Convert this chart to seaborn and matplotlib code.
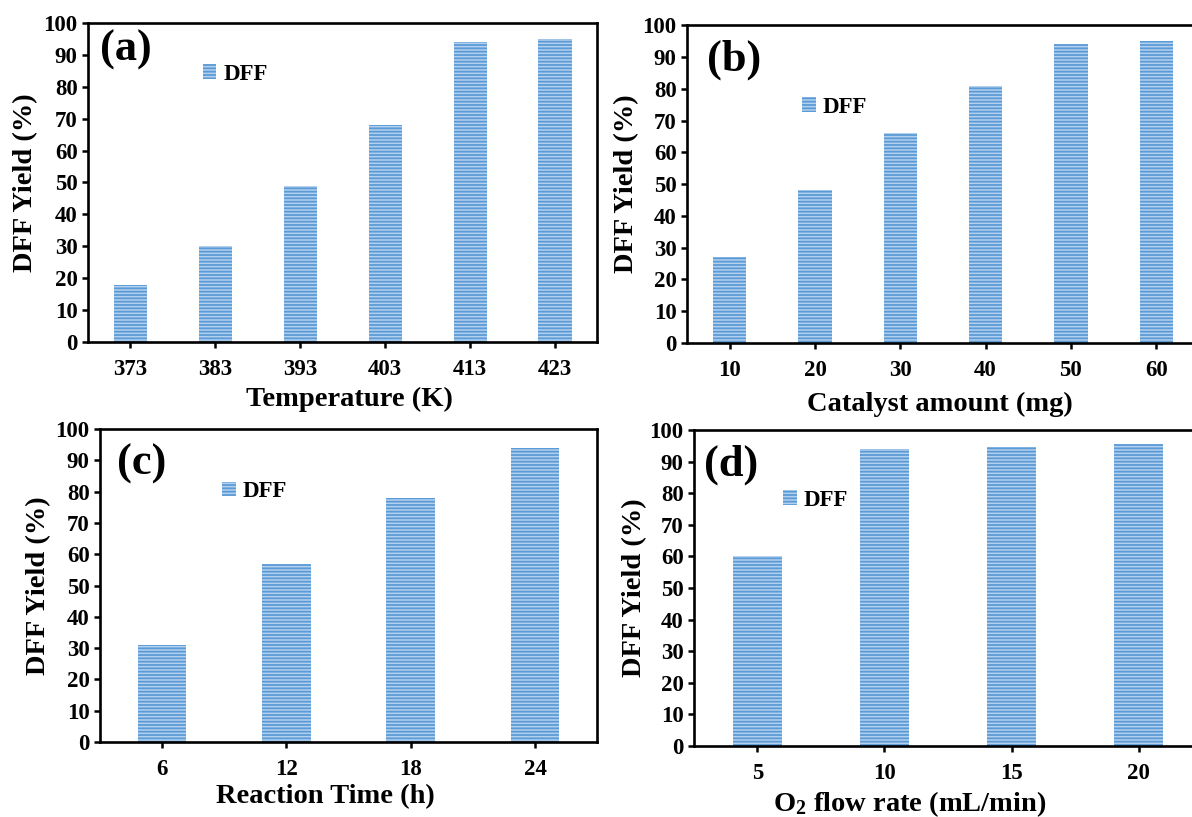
import matplotlib
matplotlib.use("Agg")
import matplotlib.pyplot as plt
from matplotlib.patches import Patch
import seaborn as sns
import pandas as pd

# Data for each panel
temperature = ["373", "383", "393", "403", "413", "423"]
yield_temperature = [18, 30, 49, 68, 94, 95]

catalyst_amount = ["10", "20", "30", "40", "50", "60"]
yield_catalyst = [27, 48, 66, 81, 94, 95]

reaction_time = ["6", "12", "18", "24"]
yield_time = [31, 57, 78, 94]

o2_flow = ["5", "10", "15", "20"]
yield_o2 = [60, 94, 94.5, 95.5]

sns.set_theme(style="white")
plt.rcParams["font.family"] = ["Liberation Serif", "DejaVu Serif"]
plt.rcParams["font.weight"] = "bold"
plt.rcParams["text.color"] = "black"
plt.rcParams["axes.labelcolor"] = "black"
plt.rcParams["xtick.color"] = "black"
plt.rcParams["ytick.color"] = "black"
plt.rcParams["hatch.linewidth"] = 1.3
plt.rcParams["mathtext.fontset"] = "custom"
plt.rcParams["mathtext.rm"] = "Liberation Serif:bold"
plt.rcParams["mathtext.it"] = "Liberation Serif:bold"
plt.rcParams["mathtext.bf"] = "Liberation Serif:bold"
plt.rcParams["mathtext.default"] = "rm"

FACE = "#b4d0ef"
STRIPE = "#5b9bd5"

fig = plt.figure(figsize=(11.92, 8.17), dpi=100)

panels = [
    # (categories, values, x label, panel tag, axes rect, legend anchor, tag pos, ylabel x, xlabel y, xlabel x)
    (temperature, yield_temperature, "Temperature (K)", "(a)",
     [0.0738, 0.5814, 0.4274, 0.3905], (0.225, 0.84), (0.024, 0.915), -0.098, -0.14, 0.514),
    (catalyst_amount, yield_catalyst, "Catalyst amount (mg)", "(b)",
     [0.5763, 0.5802, 0.4295, 0.389], (0.225, 0.742), (0.039, 0.89), -0.094, -0.154, 0.494),
    (reaction_time, yield_time, "Reaction Time (h)", "(c)",
     [0.0839, 0.0918, 0.417, 0.383], (0.245, 0.80), (0.034, 0.89), -0.099, -0.134, 0.453),
    (o2_flow, yield_o2, "O$_2$ flow rate (mL/min)", "(d)",
     [0.5822, 0.0869, 0.4262, 0.3868], (0.175, 0.778), (0.02, 0.89), -0.093, -0.136, 0.425),
]

for cats, vals, xlabel, tag, rect, leg_anchor, tag_pos, ylab_x, xlab_y, xlab_x in panels:
    ax = fig.add_axes(rect)
    df = pd.DataFrame({"x": cats, "y": vals})
    sns.barplot(data=df, x="x", y="y", ax=ax, width=0.39, color=FACE,
                saturation=1, errorbar=None)
    for bar in ax.patches:
        bar.set_facecolor(FACE)
        bar.set_edgecolor(STRIPE)
        bar.set_hatch("-----")
        bar.set_linewidth(0)

    ax.set_ylim(0, 100)
    ax.set_yticks(range(0, 101, 10))
    for side in ["left", "right", "top", "bottom"]:
        ax.spines[side].set_visible(True)
        ax.spines[side].set_color("black")
        ax.spines[side].set_linewidth(1.9)
    ax.tick_params(axis="y", which="major", direction="out", length=4.5, width=1.8,
                   pad=3, labelsize=16.5, left=True, colors="black")
    ax.tick_params(axis="x", which="major", direction="out", length=4.5, width=1.8,
                   pad=8, labelsize=16.5, bottom=True, colors="black")
    for lab in ax.get_xticklabels() + ax.get_yticklabels():
        lab.set_fontweight("bold")

    ax.set_xlabel(xlabel, fontsize=20.5, fontweight="bold", color="black")
    ax.set_ylabel("DFF Yield (%)", fontsize=20.5, fontweight="bold", color="black")
    ax.xaxis.set_label_coords(xlab_x, xlab_y)
    ax.yaxis.set_label_coords(ylab_x, 0.5)

    ax.text(tag_pos[0], tag_pos[1], tag, transform=ax.transAxes, fontsize=32,
            fontweight="bold", ha="left", va="center", color="black")

    handle = Patch(facecolor=FACE, edgecolor=STRIPE, hatch="-----", linewidth=0, label="DFF")
    leg = ax.legend(handles=[handle], loc="center left", bbox_to_anchor=leg_anchor,
                    frameon=False, handlelength=0.6, handleheight=0.6,
                    handletextpad=0.3, borderpad=0, borderaxespad=0,
                    prop={"weight": "bold", "size": 16.5})
    for t in leg.get_texts():
        t.set_color("black")

fig.savefig("out.png", dpi=100)
